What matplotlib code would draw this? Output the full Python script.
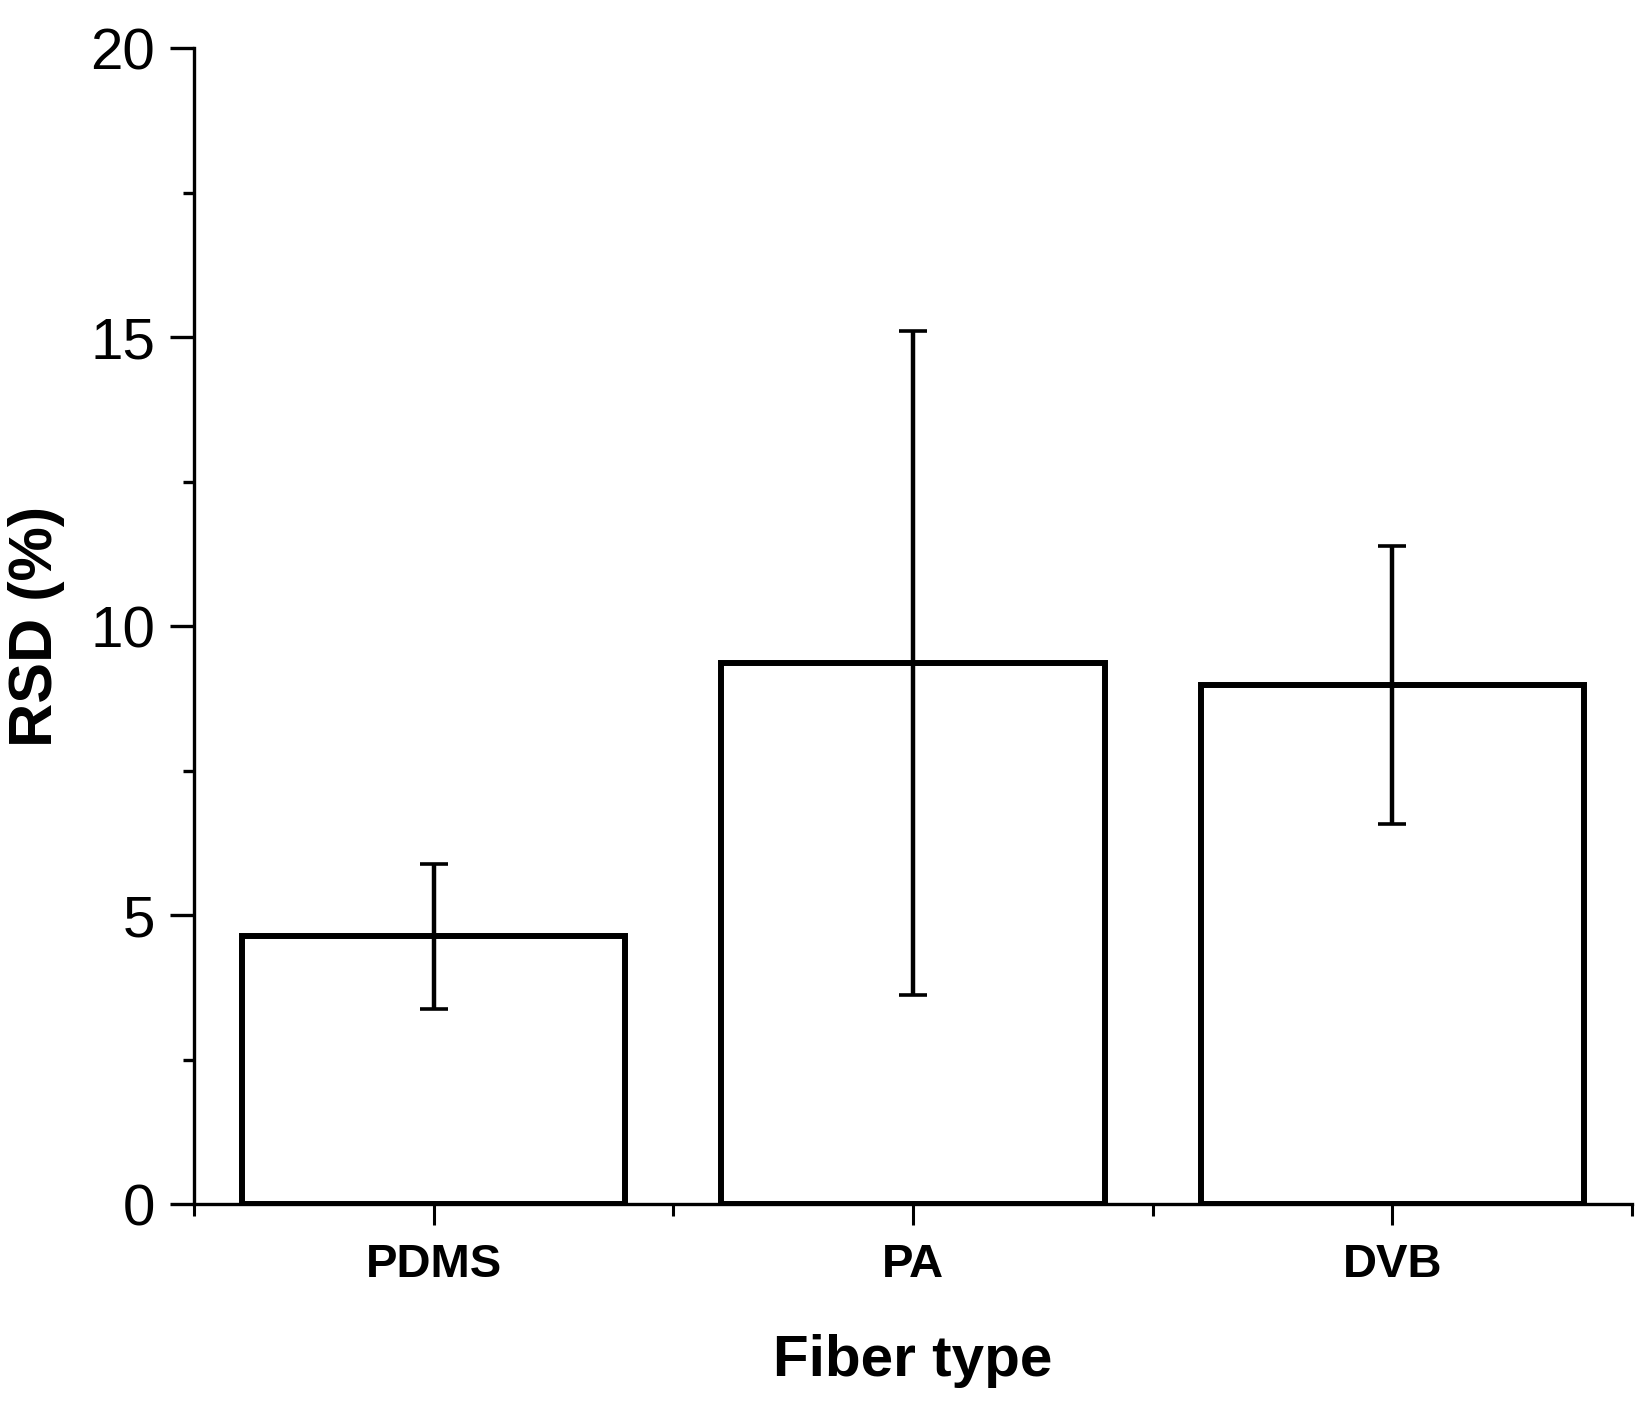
import numpy as np
import matplotlib
matplotlib.use("Agg")
import matplotlib.pyplot as plt
from matplotlib.ticker import MultipleLocator, FixedLocator

plt.rcParams['font.family'] = ['Liberation Sans', 'DejaVu Sans']

# Data
fibers = ["PDMS", "PA", "DVB"]
rsd_mean = [4.63, 9.36, 8.98]
rsd_err = [1.25, 5.74, 2.40]

fig = plt.figure(figsize=(16.45, 14.12), dpi=100)
ax = fig.add_axes([0.1179, 0.1473, 0.8742, 0.8187])

x = np.arange(len(fibers))
ax.bar(x, rsd_mean, width=0.8, color="white", edgecolor="black", linewidth=4.3, zorder=2)
ax.errorbar(x, rsd_mean, yerr=rsd_err, fmt="none", ecolor="black",
            elinewidth=3.2, capsize=10, capthick=2.6, zorder=3)

ax.set_xlim(-0.5, 2.5)
ax.set_ylim(0, 20)

ax.spines['top'].set_visible(False)
ax.spines['right'].set_visible(False)
ax.spines['left'].set_linewidth(2.4)
ax.spines['bottom'].set_linewidth(2.4)
ax.spines['left'].set_zorder(1)

ax.yaxis.set_major_locator(MultipleLocator(5))
ax.yaxis.set_minor_locator(MultipleLocator(2.5))
ax.set_xticks(x)
ax.set_xticklabels(fibers, fontweight="bold", fontsize=34)
ax.xaxis.set_minor_locator(FixedLocator([-0.5, 0.5, 1.5, 2.5]))

ax.tick_params(axis='y', which='major', direction='out', length=17, width=2.4,
               labelsize=42, pad=11)
ax.tick_params(axis='y', which='minor', direction='out', length=8, width=2.4)
ax.tick_params(axis='x', which='major', direction='out', length=15, width=2.2, pad=13)
ax.tick_params(axis='x', which='minor', direction='out', length=8.5, width=2.2)

ax.set_ylabel("RSD (%)", fontsize=44, fontweight="bold", labelpad=18)
ax.set_xlabel("Fiber type", fontsize=42, fontweight="bold", labelpad=34)

fig.savefig("out.png", dpi=100, facecolor="white")
